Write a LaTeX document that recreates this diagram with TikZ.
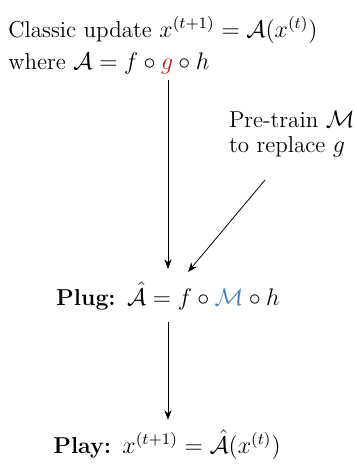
\documentclass[tikz,border=0pt]{standalone}
\usetikzlibrary{arrows.meta}
\definecolor{gred}{RGB}{178,34,34}
\definecolor{mblue}{RGB}{70,130,180}

\begin{document}
\begin{tikzpicture}[x=0.5pt, y=-0.5pt, >=Stealth,
    txt/.style={inner sep=0pt, font=\fontsize{11.5}{14}\selectfont}]
  \useasboundingbox (0,0) rectangle (357,465);

  % Classic algorithm at the top
  \node[txt, anchor=north west, align=left] (cls) at (8,16)
    {Classic update $x^{(t+1)} = \mathcal{A}(x^{(t)})$\\[2pt]
     where $\mathcal{A} = f \circ {\color{gred}g} \circ h$};

  % Side remark
  \node[txt, anchor=north east, align=left] (pre) at (355,111)
    {Pre-train $\mathcal{M}$\\[-1.5pt] to replace $g$};

  % Plug and play steps
  \node[txt, anchor=base] (plug) at (168,305)
    {\textbf{Plug:}\enskip$\hat{\mathcal{A}} = f \circ {\color{mblue}\mathcal{M}} \circ h$};
  \node[txt, anchor=base] (play) at (167,453)
    {\textbf{Play:}\enskip$x^{(t+1)} = \hat{\mathcal{A}}(x^{(t)})$};

  % Arrows
  \coordinate (d1) at (265,180);
  \coordinate (d2) at (188,272);
  \draw[->, shorten <=3pt, shorten >=6.5pt] (cls.south -| plug.north) -- (plug.north);
  \draw[->] (d1) -- (d2);
  \draw[->, shorten <=6pt, shorten >=5pt] (plug.south) -- (play.north -| plug.south);
\end{tikzpicture}
\end{document}
